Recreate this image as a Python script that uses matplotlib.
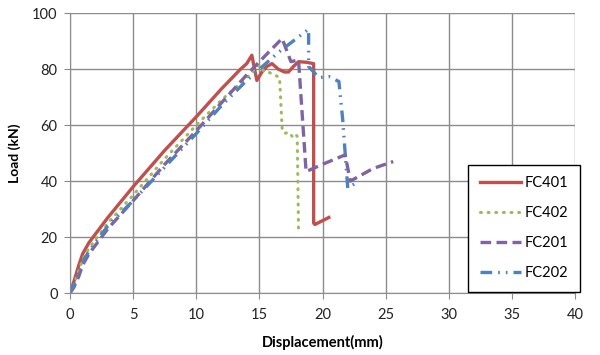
import matplotlib.pyplot as plt

plt.rcParams["font.family"] = ["Lato", "DejaVu Sans"]

# FC401
fc401_x = [0, 0.3, 0.7, 1.0, 1.5, 3, 5, 7.5, 10, 12, 13.5, 14.0, 14.4, 14.8, 15.2, 15.6,
           16.0, 16.5, 17.0, 17.3, 17.7, 18.1, 18.7, 19.3, 19.3, 19.4, 20.5]
fc401_y = [0, 4, 10, 14, 18, 27, 38, 51, 63, 73, 80, 82, 85, 76, 79, 81,
           82, 80, 79, 79, 81, 82.7, 82.5, 82, 25, 24.5, 27]

# FC402
fc402_x = [0, 0.3, 0.7, 1.0, 1.5, 3, 5, 7.5, 10, 12, 14, 15, 15.4, 15.7, 16.2, 16.6,
           16.8, 17.0, 17.3, 17.6, 17.8, 18.0, 18.1, 18.5]
fc402_y = [0, 3, 8, 12, 16, 25, 35, 48, 60, 69, 77, 81.5, 79, 79, 78, 77,
           59, 57, 57.5, 56, 57, 56, 23, 23]

# FC201
fc201_x = [0, 0.3, 0.7, 1.0, 1.5, 3, 5, 7.5, 10, 12, 14, 15.5, 16.8, 17.5, 18.1,
           18.7, 20, 21.8, 22.2, 23, 24, 25.6]
fc201_y = [0, 2, 6, 10, 14, 23, 33, 46, 58, 68, 78, 85, 91, 82.7, 83.3,
           43.4, 46, 49.4, 40, 42, 44.5, 47]

# FC202
fc202_x = [0, 0.3, 0.7, 1.0, 1.5, 3, 5, 7.5, 10, 12, 14, 15, 16.5, 18.9, 18.9,
           19.7, 20.5, 21.3, 21.6, 22.0, 22.7]
fc202_y = [0, 3, 8, 11, 15, 24, 33, 45, 57, 67, 76, 80, 86, 94.3, 81,
           77, 77.4, 75.6, 62, 37.5, 39.5]

x_ticks = [0, 5, 10, 15, 20, 25, 30, 35, 40]
y_ticks = [0, 20, 40, 60, 80, 100]

fig = plt.figure(figsize=(6, 3.55), dpi=100)
ax = fig.add_axes([0.1167, 0.1746, 0.8416, 0.788])

ax.plot(fc401_x, fc401_y, color="#C0504D", lw=2.4, label="FC401")
ax.plot(fc402_x, fc402_y, color="#9BBB59", lw=2.2, linestyle=(0, (0.3, 2.2)),
        dash_capstyle="round", label="FC402")
ax.plot(fc201_x, fc201_y, color="#8064A2", lw=2.4, linestyle=(0, (3.2, 1.6)), label="FC201")
ax.plot(fc202_x, fc202_y, color="#4F81BD", lw=2.4,
        linestyle=(0, (3.5, 1.8, 0.5, 1.8, 0.5, 1.8)), label="FC202")

ax.set_xlim(0, 40)
ax.set_ylim(0, 100)
ax.set_xticks(x_ticks)
ax.set_yticks(y_ticks)
ax.grid(True, color="#8C8C8C", lw=1)
ax.set_axisbelow(True)
for s in ["top", "right"]:
    ax.spines[s].set_visible(False)
for s in ["left", "bottom"]:
    ax.spines[s].set_color("#8C8C8C")
ax.tick_params(colors="#8C8C8C", labelcolor="#222222", labelsize=10.5, length=4)
ax.tick_params(axis="x", pad=7)
ax.tick_params(axis="y", pad=5)

ax.set_xlabel("Displacement(mm)", fontsize=10.5, fontweight="bold", labelpad=9)
ax.set_ylabel("Load (kN)", fontsize=10, fontweight="bold", labelpad=8)

leg = ax.legend(loc="lower right", bbox_to_anchor=(0.967, 0.177),
                bbox_transform=fig.transFigure, fontsize=10.5, fancybox=False,
                framealpha=1, edgecolor="black", handlelength=2.8,
                labelspacing=1.1, borderpad=0.8, handletextpad=0.3,
                borderaxespad=0)
leg.get_frame().set_linewidth(1)

fig.savefig("out.png", dpi=100)
